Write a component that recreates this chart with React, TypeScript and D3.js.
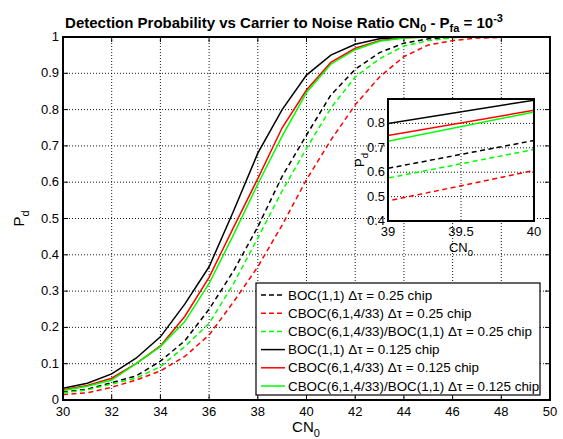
import React from "react";
import * as d3 from "d3";

const cn0 = [30, 31, 32, 33, 34, 35, 36, 37, 38, 39, 40, 41, 42, 43, 44, 45, 46, 47, 48, 49, 50];
const bocQ = [0.022, 0.03, 0.048, 0.066, 0.107, 0.163, 0.25, 0.355, 0.477, 0.616, 0.73, 0.84, 0.911, 0.957, 0.983, 0.995, 0.999, 1, 1, 1, 1];
const cbocQ = [0.015, 0.02, 0.035, 0.055, 0.08, 0.12, 0.179, 0.27, 0.367, 0.482, 0.607, 0.716, 0.813, 0.89, 0.946, 0.978, 0.99, 0.997, 0.999, 1, 1];
const cbocBocQ = [0.02, 0.028, 0.044, 0.06, 0.092, 0.147, 0.211, 0.32, 0.446, 0.576, 0.693, 0.804, 0.89, 0.94, 0.975, 0.99, 0.998, 1, 1, 1, 1];
const bocE = [0.032, 0.046, 0.072, 0.115, 0.174, 0.264, 0.367, 0.52, 0.68, 0.8, 0.895, 0.95, 0.98, 0.995, 0.999, 1, 1, 1, 1, 1, 1];
const cbocE = [0.028, 0.04, 0.06, 0.1, 0.149, 0.23, 0.338, 0.475, 0.61, 0.75, 0.854, 0.93, 0.969, 0.99, 0.998, 1, 1, 1, 1, 1, 1];
const cbocBocE = [0.026, 0.038, 0.055, 0.1, 0.147, 0.216, 0.321, 0.455, 0.595, 0.727, 0.847, 0.925, 0.965, 0.988, 0.997, 1, 1, 1, 1, 1, 1];

const legendLabels = [
  "BOC(1,1) \u0394\u03c4 = 0.25 chip",
  "CBOC(6,1,4/33) \u0394\u03c4 = 0.25 chip",
  "CBOC(6,1,4/33)/BOC(1,1) \u0394\u03c4 = 0.25 chip",
  "BOC(1,1) \u0394\u03c4 = 0.125 chip",
  "CBOC(6,1,4/33) \u0394\u03c4 = 0.125 chip",
  "CBOC(6,1,4/33)/BOC(1,1) \u0394\u03c4 = 0.125 chip",
];

const xTicks = [30, 32, 34, 36, 38, 40, 42, 44, 46, 48, 50];
const yTicks = [0, 0.1, 0.2, 0.3, 0.4, 0.5, 0.6, 0.7, 0.8, 0.9, 1];
const insetXTicks = [39, 39.5, 40];
const insetYTicks = [0.4, 0.5, 0.6, 0.7, 0.8];

const series = [
  { values: bocQ, color: "#000000", dash: true },
  { values: cbocQ, color: "#ff0000", dash: true },
  { values: cbocBocQ, color: "#00ff00", dash: true },
  { values: bocE, color: "#000000", dash: false },
  { values: cbocE, color: "#ff0000", dash: false },
  { values: cbocBocE, color: "#00ff00", dash: false },
];

const FONT = "'Liberation Sans', Arial, Helvetica, sans-serif";
const DASH = "5,3.5";
const DOT = "1,2";

export default function App() {
  const W = 563, H = 439;
  const L = 63, R = 550, T = 37, B = 400;
  const x = d3.scaleLinear().domain([30, 50]).range([L, R]);
  const y = d3.scaleLinear().domain([0, 1]).range([B, T]);

  const iL = 388, iR = 534, iT = 99, iB = 221;
  const ix = d3.scaleLinear().domain([39, 40]).range([iL, iR]);
  const iy = d3.scaleLinear().domain([0.4, 0.9]).range([iB, iT]);

  const mainLine = d3.line<number>().x((_, i) => x(cn0[i])).y((d) => y(d));
  const insetLine = d3.line<number>().x((_, i) => ix(cn0[i])).y((d) => iy(d));

  const tickLen = 5;
  const legL = 256, legT = 283, legR = 540, legB = 395;
  const rowY = (i: number) => 295 + i * 18.2;

  return (
    <svg width={W} height={H} style={{ position: "absolute", left: 0, top: 0, background: "#fff" }} fontFamily={FONT}>
      <rect x={0} y={0} width={W} height={H} fill="#fff" />
      <defs>
        <clipPath id="mainClip">
          <rect x={L} y={T - 1} width={R - L} height={B - T + 1} />
        </clipPath>
        <clipPath id="insetClip">
          <rect x={iL} y={iT} width={iR - iL} height={iB - iT} />
        </clipPath>
      </defs>

      {/* main grid */}
      {xTicks.slice(1, -1).map((t) => (
        <line key={"gx" + t} x1={x(t)} x2={x(t)} y1={T} y2={B} stroke="#000" strokeWidth={0.9} strokeDasharray={DOT} />
      ))}
      {yTicks.slice(1, -1).map((t) => (
        <line key={"gy" + t} x1={L} x2={R} y1={y(t)} y2={y(t)} stroke="#000" strokeWidth={0.9} strokeDasharray={DOT} />
      ))}

      {/* main ticks */}
      {xTicks.map((t) => (
        <g key={"tx" + t}>
          <line x1={x(t)} x2={x(t)} y1={B} y2={B - tickLen} stroke="#000" />
          <line x1={x(t)} x2={x(t)} y1={T} y2={T + tickLen} stroke="#000" />
          <text x={x(t)} y={416} fontSize={13} textAnchor="middle" fill="#000">{t}</text>
        </g>
      ))}
      {yTicks.map((t) => (
        <g key={"ty" + t}>
          <line x1={L} x2={L + tickLen} y1={y(t)} y2={y(t)} stroke="#000" />
          <line x1={R} x2={R - tickLen} y1={y(t)} y2={y(t)} stroke="#000" />
          <text x={59} y={y(t) + 4} fontSize={13} textAnchor="end" fill="#000">{d3.format("~g")(t)}</text>
        </g>
      ))}

      {/* main data */}
      <g clipPath="url(#mainClip)">
        {series.map((s, i) => (
          <path key={"m" + i} d={mainLine(s.values) || ""} fill="none" stroke={s.color} strokeWidth={1.5} strokeDasharray={s.dash ? DASH : undefined} />
        ))}
      </g>

      <rect x={L} y={T} width={R - L} height={B - T} fill="none" stroke="#000" strokeWidth={2} />

      {/* title */}
      <text x={284} y={28} fontSize={15} fontWeight="bold" textAnchor="middle" fill="#000">
        Detection Probability vs Carrier to Noise Ratio CN
        <tspan fontSize={11} dy={4}>0</tspan>
        <tspan dy={-4}> - P</tspan>
        <tspan fontSize={11} dy={4}>fa</tspan>
        <tspan dy={-4}> = 10</tspan>
        <tspan fontSize={11} dy={-6}>-3</tspan>
      </text>

      {/* axis labels */}
      <text x={306} y={432} fontSize={15} textAnchor="middle" fill="#000">
        CN<tspan fontSize={11} dy={5}>0</tspan>
      </text>
      <text transform={`translate(24,${(T + B) / 2}) rotate(-90)`} fontSize={15} textAnchor="middle" fill="#000">
        P<tspan fontSize={11} dy={5}>d</tspan>
      </text>

      {/* inset */}
      <rect x={iL} y={iT} width={iR - iL} height={iB - iT} fill="#fff" />
      {insetXTicks.slice(1, -1).map((t) => (
        <line key={"igx" + t} x1={ix(t)} x2={ix(t)} y1={iT} y2={iB} stroke="#000" strokeWidth={0.9} strokeDasharray={DOT} />
      ))}
      {insetYTicks.slice(1).map((t) => (
        <line key={"igy" + t} x1={iL} x2={iR} y1={iy(t)} y2={iy(t)} stroke="#000" strokeWidth={0.9} strokeDasharray={DOT} />
      ))}
      <g clipPath="url(#insetClip)">
        {series.map((s, i) => (
          <path key={"i" + i} d={insetLine(s.values) || ""} fill="none" stroke={s.color} strokeWidth={1.5} strokeDasharray={s.dash ? DASH : undefined} />
        ))}
      </g>
      <rect x={iL} y={iT} width={iR - iL} height={iB - iT} fill="none" stroke="#000" strokeWidth={2} />
      {insetXTicks.map((t) => (
        <text key={"itx" + t} x={ix(t)} y={236} fontSize={13} textAnchor="middle" fill="#000">{t}</text>
      ))}
      {insetYTicks.map((t) => (
        <text key={"ity" + t} x={385} y={iy(t) + 4} fontSize={13} textAnchor="end" fill="#000">{t}</text>
      ))}
      <text x={461} y={252} fontSize={13} textAnchor="middle" fill="#000">
        CN<tspan fontSize={9.5} dy={4}>0</tspan>
      </text>
      <text transform={`translate(364,${(iT + iB) / 2}) rotate(-90)`} fontSize={13} textAnchor="middle" fill="#000">
        P<tspan fontSize={9.5} dy={4}>d</tspan>
      </text>

      {/* legend */}
      <rect x={legL} y={legT} width={legR - legL} height={legB - legT} fill="#fff" stroke="#000" strokeWidth={1.2} />
      {series.map((s, i) => (
        <g key={"lg" + i}>
          <line x1={261} x2={285} y1={rowY(i)} y2={rowY(i)} stroke={s.color} strokeWidth={1.5} strokeDasharray={s.dash ? "5,3" : undefined} />
          <text x={288} y={rowY(i) + 4.5} fontSize={13.4} fill="#000">{legendLabels[i]}</text>
        </g>
      ))}
    </svg>
  );
}
